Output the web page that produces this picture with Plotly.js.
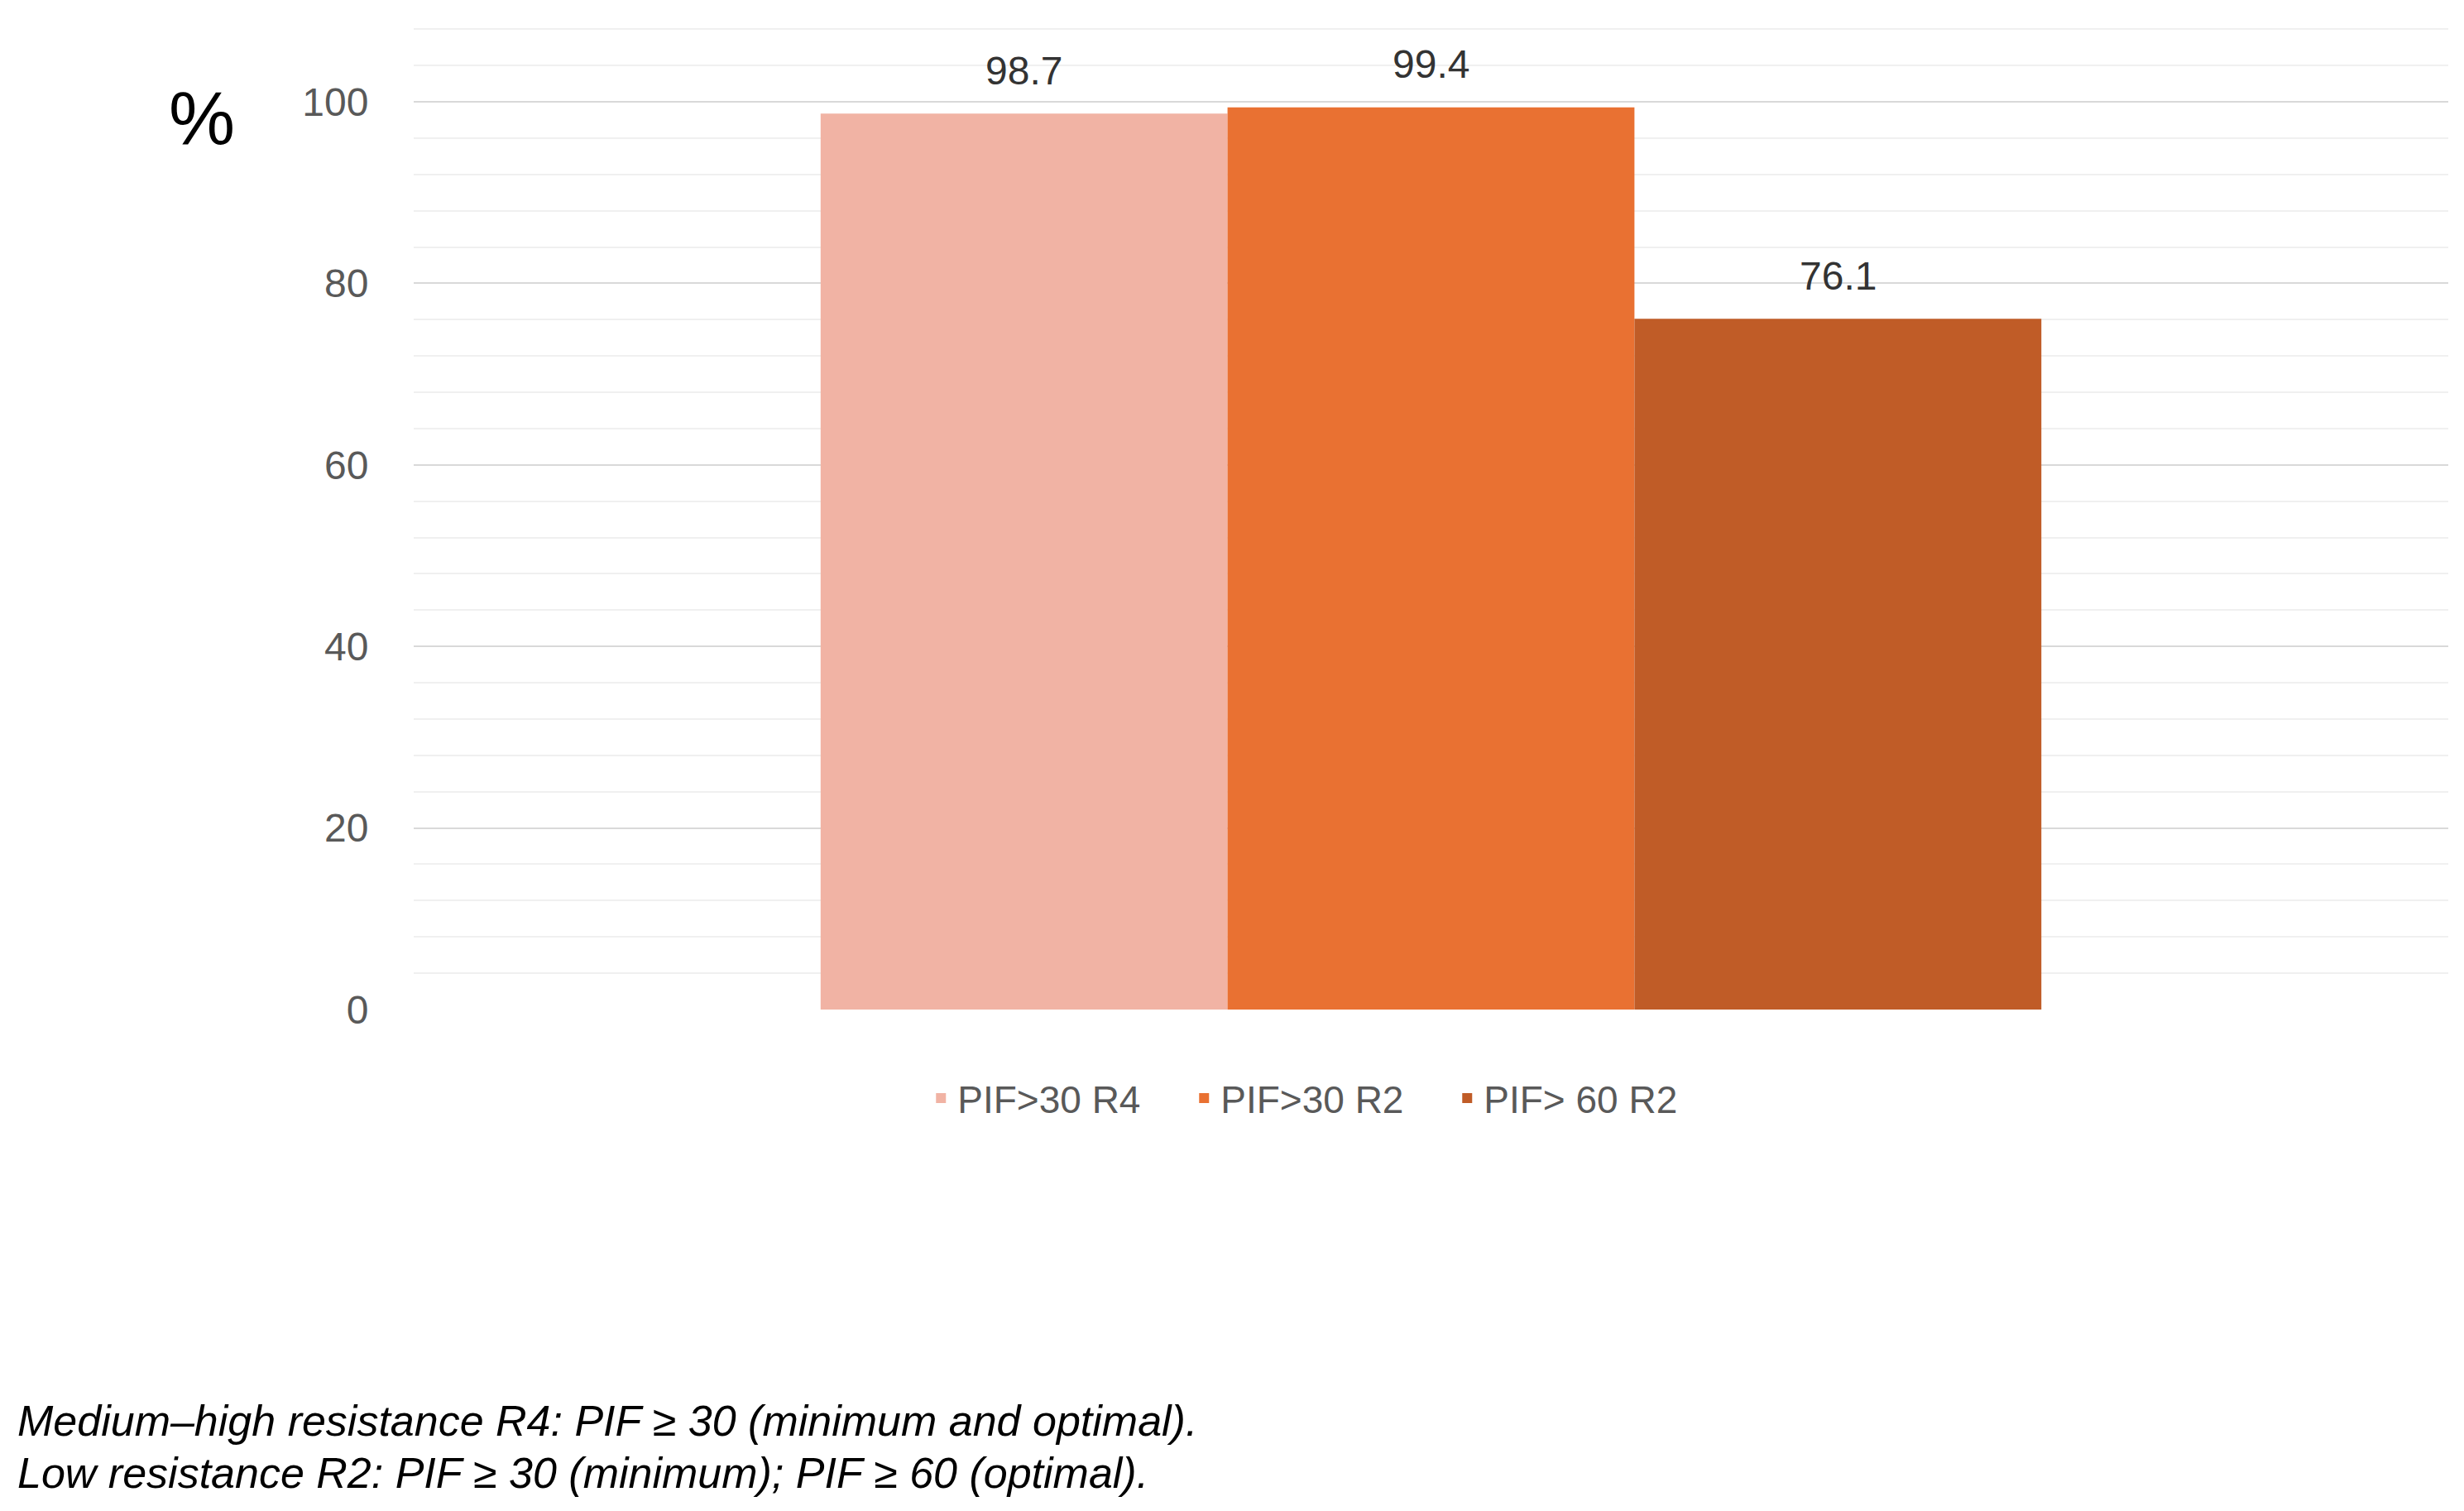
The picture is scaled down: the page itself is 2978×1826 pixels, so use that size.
<!DOCTYPE html>
<html>
<head>
<meta charset="utf-8">
<script src="https://cdn.plot.ly/plotly-3.0.1.min.js"></script>
<style>
  html, body { margin: 0; padding: 0; background: #ffffff; }
  #myDiv { width: 2978px; height: 1826px; }
</style>
</head>
<body>
<div id="myDiv"></div>
<script>
// series shown as adjacent bars
var seriesNames = ['PIF>30 R4', 'PIF>30 R2', 'PIF> 60 R2'];
var seriesValues = [98.7, 99.4, 76.1];
var seriesColors = ['#F1B3A4', '#E97132', '#C05C27'];
var yTicks = [0, 20, 40, 60, 80, 100];
var footnote = [
	'Medium\u2013high resistance R4: PIF \u2265 30 (minimum and optimal).',
	'Low resistance R2: PIF \u2265 30 (minimum); PIF \u2265 60 (optimal).'
];

var fontFamily = 'Liberation Sans, Arial, Helvetica, sans-serif';

// plot area in page pixels, used to place the paper-referenced texts
var W = 2978, H = 1826;
var mL = 500, mR = 19, mT = 32, mB = 606;
var plotW = W - mL - mR;
var plotH = H - mT - mB;
function px(x){ return (x - mL) / plotW; }
function py(y){ return (H - mB - y) / plotH; }

var data = [];
for (var i in seriesNames){
	data.push({
		x: [seriesNames[i]],
		y: [seriesValues[i]],
		name: seriesNames[i],
		type: 'bar',
		width: 1,
		marker: {color: seriesColors[i], line: {width: 0}},
		hoverinfo: 'x+y'
	});
};

var annotations = [];
for (var j in seriesNames){
	annotations.push({
		x: seriesNames[j],
		y: seriesValues[j],
		xref: 'x',
		yref: 'y',
		text: String(seriesValues[j]),
		showarrow: false,
		yanchor: 'middle',
		yshift: 52,
		font: {family: fontFamily, size: 48, color: '#333333'}
	});
};

// axis unit label
annotations.push({
	x: px(244), y: py(143), xref: 'paper', yref: 'paper',
	xanchor: 'center', yanchor: 'middle',
	text: '%', showarrow: false,
	font: {family: fontFamily, size: 90, color: '#000000'}
});

// footnote, one annotation per line
var footY = [1717, 1780];
for (var k in footnote){
	annotations.push({
		x: px(19), y: py(footY[k]),
		xref: 'paper', yref: 'paper',
		xanchor: 'left', yanchor: 'middle',
		align: 'left',
		text: '<i>' + footnote[k] + '</i>',
		showarrow: false,
		font: {family: fontFamily, size: 52, color: '#000000'}
	});
};

var layout = {
	width: W,
	height: H,
	paper_bgcolor: '#ffffff',
	plot_bgcolor: '#ffffff',
	font: {family: fontFamily, color: '#595959'},
	margin: {l: mL, r: mR, t: mT, b: mB, pad: 0},
	barmode: 'overlay',
	xaxis: {
		type: 'category',
		range: [-1.5, 3.5],
		showticklabels: false,
		showgrid: false,
		zeroline: false,
		showline: false,
		fixedrange: true
	},
	yaxis: {
		range: [0, 108.3],
		tickvals: yTicks,
		ticktext: yTicks.map(String),
		tickfont: {family: fontFamily, size: 48, color: '#595959'},
		ticks: 'outside',
		ticklen: 44,
		tickcolor: 'rgba(0,0,0,0)',
		showgrid: true,
		gridcolor: '#d9d9d9',
		gridwidth: 2,
		zeroline: false,
		showline: false,
		minor: {dtick: 4, tick0: 0, showgrid: true, gridcolor: '#f0f0f0', gridwidth: 2},
		fixedrange: true
	},
	showlegend: true,
	legend: {
		orientation: 'h',
		x: 0.445,
		xanchor: 'center',
		y: py(1327),
		yanchor: 'middle',
		entrywidth: 273,
		entrywidthmode: 'pixels',
		font: {family: fontFamily, size: 46, color: '#595959'},
		itemsizing: 'constant'
	},
	annotations: annotations
};

Plotly.newPlot('myDiv', data, layout, {displayModeBar: false, responsive: false});
</script>
</body>
</html>
